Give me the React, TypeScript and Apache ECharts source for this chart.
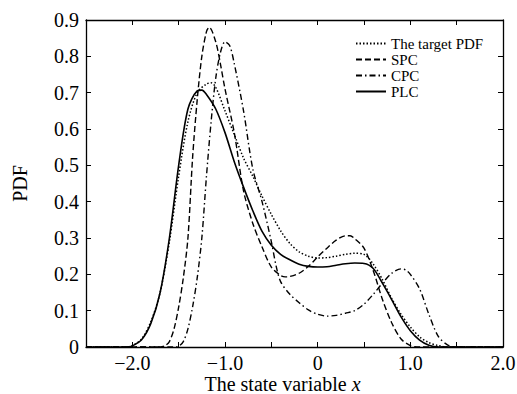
import React, { useEffect, useRef } from "react";
import * as echarts from "echarts";

// x positions and PDF values, one pair of arrays per curve
const targetX = [-2.5, -2.1, -2.0, -1.9, -1.8, -1.7, -1.6, -1.5, -1.4, -1.3, -1.2, -1.15, -1.1, -1.0, -0.9, -0.8, -0.7, -0.6, -0.5, -0.4, -0.3, -0.2, -0.1, 0.0, 0.1, 0.2, 0.3, 0.4, 0.5, 0.6, 0.7, 0.8, 0.9, 1.0, 1.1, 1.2, 1.3, 1.4, 2.0];
const targetY = [0, 0, 0.004, 0.022, 0.07, 0.15, 0.29, 0.47, 0.62, 0.7, 0.724, 0.727, 0.715, 0.65, 0.585, 0.52, 0.47, 0.415, 0.365, 0.32, 0.285, 0.262, 0.25, 0.245, 0.246, 0.25, 0.255, 0.258, 0.255, 0.228, 0.185, 0.133, 0.09, 0.055, 0.028, 0.012, 0.004, 0, 0];

const spcX = [-2.5, -1.7, -1.65, -1.6, -1.55, -1.5, -1.45, -1.4, -1.35, -1.3, -1.25, -1.2, -1.17, -1.1, -1.05, -1.0, -0.9, -0.8, -0.7, -0.6, -0.5, -0.4, -0.35, -0.3, -0.2, -0.1, 0.0, 0.1, 0.2, 0.3, 0.35, 0.4, 0.5, 0.6, 0.7, 0.8, 0.9, 1.0, 1.1, 2.0];
const spcY = [0, 0, 0.003, 0.015, 0.05, 0.11, 0.19, 0.3, 0.52, 0.68, 0.8, 0.868, 0.88, 0.84, 0.78, 0.71, 0.59, 0.43, 0.34, 0.275, 0.22, 0.197, 0.193, 0.194, 0.203, 0.222, 0.248, 0.272, 0.294, 0.306, 0.306, 0.298, 0.272, 0.21, 0.13, 0.066, 0.022, 0.004, 0, 0];

const cpcX = [-2.5, -1.55, -1.5, -1.45, -1.4, -1.35, -1.3, -1.25, -1.2, -1.15, -1.1, -1.05, -1.0, -0.95, -0.9, -0.8, -0.7, -0.6, -0.5, -0.45, -0.4, -0.3, -0.2, -0.1, 0.0, 0.1, 0.2, 0.3, 0.4, 0.5, 0.6, 0.7, 0.8, 0.9, 0.95, 1.0, 1.1, 1.2, 1.3, 1.4, 1.5, 2.0];
const cpcY = [0, 0, 0.002, 0.015, 0.05, 0.11, 0.19, 0.3, 0.47, 0.62, 0.74, 0.81, 0.84, 0.83, 0.78, 0.65, 0.49, 0.4, 0.29, 0.225, 0.18, 0.145, 0.122, 0.102, 0.09, 0.085, 0.087, 0.093, 0.1, 0.118, 0.145, 0.176, 0.203, 0.215, 0.212, 0.2, 0.16, 0.09, 0.03, 0.006, 0, 0];

const plcX = [-2.5, -2.05, -2.0, -1.9, -1.8, -1.7, -1.6, -1.5, -1.4, -1.3, -1.25, -1.2, -1.1, -1.0, -0.9, -0.8, -0.7, -0.6, -0.5, -0.4, -0.3, -0.2, -0.1, 0.0, 0.1, 0.2, 0.3, 0.4, 0.5, 0.6, 0.7, 0.8, 0.9, 1.0, 1.1, 1.2, 1.3, 2.0];
const plcY = [0, 0, 0.003, 0.02, 0.065, 0.15, 0.3, 0.5, 0.655, 0.705, 0.707, 0.695, 0.655, 0.59, 0.51, 0.44, 0.375, 0.318, 0.28, 0.255, 0.24, 0.228, 0.222, 0.22, 0.221, 0.225, 0.229, 0.231, 0.23, 0.216, 0.175, 0.13, 0.083, 0.045, 0.019, 0.005, 0, 0];

const seriesNames = ["The target PDF", "SPC", "CPC", "PLC"];
const xTitle = "The state variable ";
const yTitle = "PDF";

const FONT = "Liberation Serif";

const pairs = (xs: number[], ys: number[]) => xs.map((x, i) => [x, ys[i]]);

const xFmt = (v: number) => {
  if (Math.abs(v - Math.round(v)) > 1e-9) return "";
  if (Math.abs(v) < 1e-9) return "0";
  return (v < 0 ? "\u2212" : "") + Math.abs(v).toFixed(1);
};
const yFmt = (v: number) => (Math.abs(v) < 1e-9 ? "0" : v.toFixed(1));

export default function App() {
  const ref = useRef<HTMLDivElement>(null);
  useEffect(() => {
    if (!ref.current) return;
    const chart = echarts.init(ref.current, undefined, { renderer: "svg" });
    const axisLine = { show: true, onZero: false, lineStyle: { color: "#000", width: 1.3 } };
    const tick = { show: true, inside: true, length: 5, lineStyle: { color: "#000", width: 1 } };
    const mk = (name: string, data: number[][], type: any, width: number) => ({
      name,
      type: "line",
      data,
      symbol: "none",
      smooth: 0.3,
      xAxisIndex: 0,
      yAxisIndex: 0,
      lineStyle: { color: "#000", width, type },
      itemStyle: { color: "#000" },
    });
    chart.setOption({
      animation: false,
      backgroundColor: "#fff",
      grid: { left: 86, right: 14, top: 20, bottom: 47, containLabel: false, outerBoundsMode: "none" },
      legend: {
        orient: "vertical",
        left: 350,
        top: 31,
        itemWidth: 30,
        itemHeight: 10,
        itemGap: 1,
        padding: 5,
        itemStyle: { opacity: 0 },
        textStyle: { fontFamily: FONT, fontSize: 15, color: "#000", lineHeight: 15 },
        data: seriesNames,
      },
      xAxis: [
        {
          type: "value",
          min: -2.5,
          max: 2,
          interval: 0.5,
          position: "bottom",
          axisLine,
          axisTick: tick,
          splitLine: { show: false },
          axisLabel: { formatter: xFmt, fontFamily: FONT, fontSize: 20, color: "#000", margin: 6, showMinLabel: true, showMaxLabel: true },
          name: xTitle + "{i|x}",
          nameLocation: "middle",
          nameGap: 27,
          nameMoveOverlap: false,
          nameTextStyle: {
            fontFamily: FONT,
            fontSize: 20,
            color: "#000",
            lineHeight: 20,
            padding: [0, 24, 0, 0],
            rich: { i: { fontFamily: FONT, fontSize: 20, fontStyle: "italic", color: "#000", lineHeight: 20 } },
          },
        },
        {
          type: "value",
          min: -2.5,
          max: 2,
          interval: 0.5,
          position: "top",
          axisLine,
          axisTick: tick,
          splitLine: { show: false },
          axisLabel: { show: false },
        },
      ],
      yAxis: [
        {
          type: "value",
          min: 0,
          max: 0.9,
          interval: 0.1,
          position: "left",
          axisLine,
          axisTick: tick,
          splitLine: { show: false },
          axisLabel: { formatter: yFmt, fontFamily: FONT, fontSize: 20, color: "#000", margin: 7 },
          name: yTitle,
          nameLocation: "middle",
          nameGap: 56,
          nameMoveOverlap: false,
          nameTextStyle: { fontFamily: FONT, fontSize: 20, color: "#000" },
        },
        {
          type: "value",
          min: 0,
          max: 0.9,
          interval: 0.1,
          position: "right",
          axisLine,
          axisTick: tick,
          splitLine: { show: false },
          axisLabel: { show: false },
        },
      ],
      series: [
        mk(seriesNames[0], pairs(targetX, targetY), [1.5, 2], 1.5),
        mk(seriesNames[1], pairs(spcX, spcY), [6, 3], 1.4),
        mk(seriesNames[2], pairs(cpcX, cpcY), [6, 3, 1.5, 3], 1.4),
        mk(seriesNames[3], pairs(plcX, plcY), "solid", 1.6),
      ],
    });
    return () => chart.dispose();
  }, []);
  return <div ref={ref} style={{ position: "absolute", left: 0, top: 0, width: 517, height: 394 }} />;
}
